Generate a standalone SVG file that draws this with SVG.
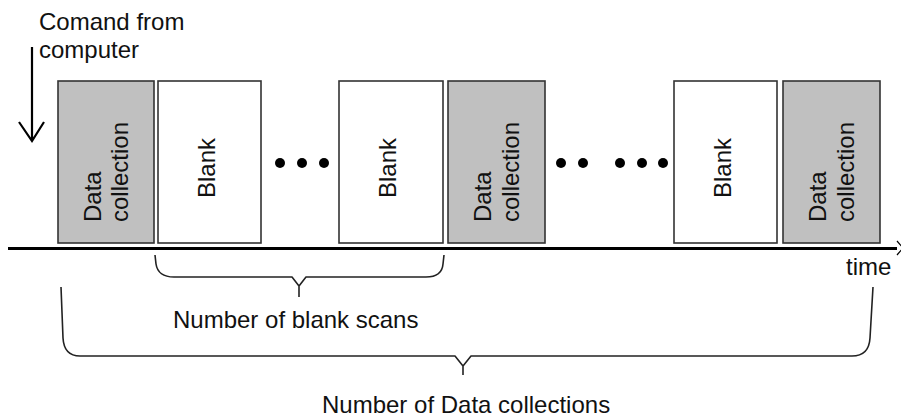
<svg xmlns="http://www.w3.org/2000/svg" width="901" height="420" viewBox="0 0 901 420">
<style>
text{font-family:"Liberation Sans",Arial,sans-serif;font-size:24px;fill:#111}
.dc{fill:#c0c0c0;stroke:#333;stroke-width:1.6}
.bl{fill:#fff;stroke:#333;stroke-width:1.6}
.br{fill:none;stroke:#222;stroke-width:1.6;stroke-linejoin:round}
.dot{fill:#000}
</style>
<rect width="901" height="420" fill="#fff"/>
<g id="cmd">
<text x="39" y="30">Comand from</text>
<text x="39" y="58">computer</text>
<path d="M32,47 L32,141 M19,122 L32,141 L44,122" fill="none" stroke="#000" stroke-width="2.2"/>
</g>
<g id="dc1"><rect class="dc" x="58" y="81" width="96" height="162"/>
<text transform="translate(101,222) rotate(-90)">Data</text>
<text transform="translate(128,222) rotate(-90)">collection</text></g>
<g id="blank1"><rect class="bl" x="158" y="81" width="103" height="162"/>
<text transform="translate(215,198) rotate(-90)">Blank</text></g>
<g id="blank2"><rect class="bl" x="339" y="81" width="104" height="162"/>
<text transform="translate(396,198) rotate(-90)">Blank</text></g>
<g id="dc2"><rect class="dc" x="448" y="81" width="97" height="162"/>
<text transform="translate(491,222) rotate(-90)">Data</text>
<text transform="translate(519,222) rotate(-90)">collection</text></g>
<g id="blank3"><rect class="bl" x="674" y="81" width="103" height="162"/>
<text transform="translate(731,198) rotate(-90)">Blank</text></g>
<g id="dc3"><rect class="dc" x="783" y="81" width="97" height="162"/>
<text transform="translate(826,222) rotate(-90)">Data</text>
<text transform="translate(854,222) rotate(-90)">collection</text></g>
<g id="dots">
<circle class="dot" cx="280" cy="163" r="5"/><circle class="dot" cx="302" cy="163" r="5"/><circle class="dot" cx="324" cy="163" r="5"/>
<circle class="dot" cx="561" cy="163" r="5"/><circle class="dot" cx="583" cy="163" r="5"/>
<circle class="dot" cx="620" cy="163" r="5"/><circle class="dot" cx="642" cy="163" r="5"/><circle class="dot" cx="663" cy="163" r="5"/>
</g>
<g id="connectors">
<path d="M8,248.5 L897,248.5" stroke="#000" stroke-width="3"/>
<path d="M897,241 L903,248 L897,255" fill="none" stroke="#000" stroke-width="1.2"/>
<path class="br" d="M155,255 L156,264 Q158,277 174,277 L292,277 L299,286 L299,297 M299,286 L306,277 L426,277 Q442,277 443,264 L444,255"/>
<path class="br" d="M61,287 L63,338 Q64,356 80,356 L455,356 L463,366 L463,375 M463,366 L471,356 L852,356 Q869,356 870,338 L873,287"/>
</g>
<g id="labels">
<text x="846" y="275">time</text>
<text x="173" y="328">Number of blank scans</text>
<text x="322" y="413">Number of Data collections</text>
</g>
</svg>
